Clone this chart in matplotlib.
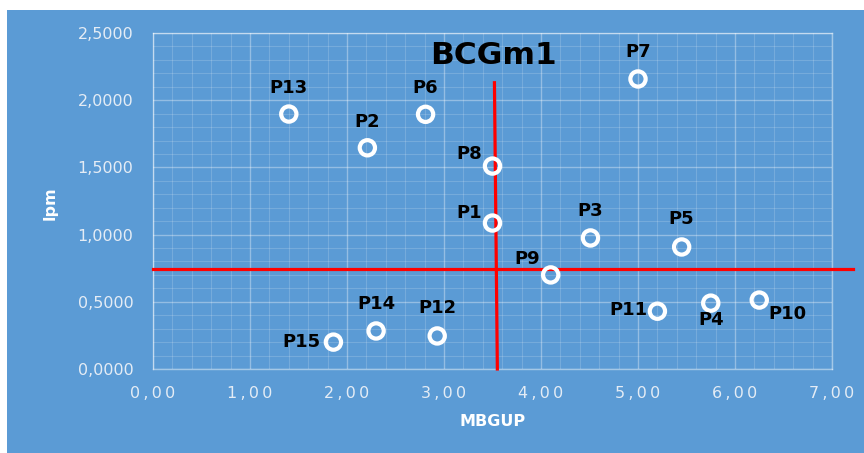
import matplotlib
matplotlib.use("Agg")
import matplotlib.pyplot as plt
from matplotlib.patches import Rectangle
from matplotlib.ticker import MultipleLocator, FixedLocator

plt.rcParams['font.family'] = ['DejaVu Sans']

# Products: MBGUP (x) vs lpm (y)
labels = ["P1", "P2", "P3", "P4", "P5", "P6", "P7", "P8",
          "P9", "P10", "P11", "P12", "P13", "P14", "P15"]
mbgup = [3.50, 2.21, 4.51, 5.75, 5.45, 2.81, 5.00, 3.50,
         4.10, 6.25, 5.20, 2.93, 1.40, 2.30, 1.86]
lpm = [1.086, 1.646, 0.975, 0.49, 0.908, 1.895, 2.158, 1.51,
       0.70, 0.513, 0.43, 0.246, 1.897, 0.283, 0.20]

# Quadrant divider lines
vline_x = [3.52, 3.55]
vline_y = [2.13, 0.0]
hline_x = [0.0, 7.22]
hline_y = [0.744, 0.744]

xticks = [0, 1, 2, 3, 4, 5, 6, 7]
yticks = [0.0, 0.5, 1.0, 1.5, 2.0, 2.5]
xtick_labels = ["0,00", "1,00", "2,00", "3,00", "4,00", "5,00", "6,00", "7,00"]
ytick_labels = ["0,0000", "0,5000", "1,0000", "1,5000", "2,0000", "2,5000"]

# label offsets in pixels (dx, dy) relative to the marker
label_offsets = {
    "P1": (-23, 10), "P2": (0, 26), "P3": (0, 27), "P4": (0, -17),
    "P5": (0, 28), "P6": (0, 26), "P7": (0, 27), "P8": (-23, 12),
    "P9": (-24, 16), "P10": (28, -14), "P11": (-29, 1), "P12": (0, 28),
    "P13": (0, 26), "P14": (0, 27), "P15": (-32, 0),
}

BG = "#5b9bd5"
TICK_COLOR = "#e4ecf5"

W, H = 864, 453
fig = plt.figure(figsize=(W / 100, H / 100), dpi=100)
fig.patch.set_facecolor("white")
fig.patches.append(Rectangle((7 / W, 0), 1 - 7 / W, (H - 10) / H,
                             transform=fig.transFigure, facecolor=BG,
                             edgecolor="none", zorder=-10))

ax = fig.add_axes([153 / W, (H - 369) / H, (832 - 153) / W, (369 - 33) / H])
ax.set_zorder(1)
ax.set_facecolor(BG)
ax.set_xlim(0, 7)
ax.set_ylim(0, 2.5)

ax.xaxis.set_major_locator(FixedLocator(xticks))
ax.yaxis.set_major_locator(FixedLocator(yticks))
ax.xaxis.set_minor_locator(MultipleLocator(0.2))
ax.yaxis.set_minor_locator(MultipleLocator(0.1))
ax.grid(which="major", color="white", alpha=0.35, linewidth=1.0)
ax.grid(which="minor", color="white", alpha=0.16, linewidth=0.8)
ax.set_axisbelow(True)
for s in ax.spines.values():
    s.set_color((1, 1, 1, 0.45))
    s.set_linewidth(1.0)

spaced = ["\u2009".join(t) for t in xtick_labels]
ax.set_xticklabels(spaced, fontsize=11.5, color=TICK_COLOR)
ax.set_yticklabels(ytick_labels, fontsize=11.5, color=TICK_COLOR)
ax.tick_params(which="both", length=0)
ax.tick_params(axis="x", pad=12)
ax.tick_params(axis="y", pad=14)

ax.plot(hline_x, hline_y, color="#ff0000", linewidth=2.3, clip_on=False, zorder=3)
ax.plot(vline_x, vline_y, color="#ff0000", linewidth=2.3, clip_on=False, zorder=3)

ax.scatter(mbgup, lpm, s=11 ** 2, facecolors="none", edgecolors="white",
           linewidths=3.0, zorder=4, clip_on=False)

for name, x, y in zip(labels, mbgup, lpm):
    dx, dy = label_offsets[name]
    ax.annotate(name, (x, y), xytext=(dx * 0.72, dy * 0.72),
                textcoords="offset points", ha="center", va="center",
                fontsize=13, fontweight="bold", color="black", zorder=5)

fig.text(493 / W, 1 - 55 / H, "BCGm1", ha="center", va="center",
         fontsize=22.5, fontweight="bold", color="black", zorder=6)
fig.text(493 / W, 1 - 422 / H, "MBGUP", ha="center", va="center",
         fontsize=11.5, fontweight="bold", color="white")
fig.text(50 / W, 1 - 203 / H, "lpm", ha="center", va="center",
         fontsize=11.5, fontweight="bold", color="white", rotation=90)

fig.savefig("out.png", dpi=100, facecolor=fig.get_facecolor())
